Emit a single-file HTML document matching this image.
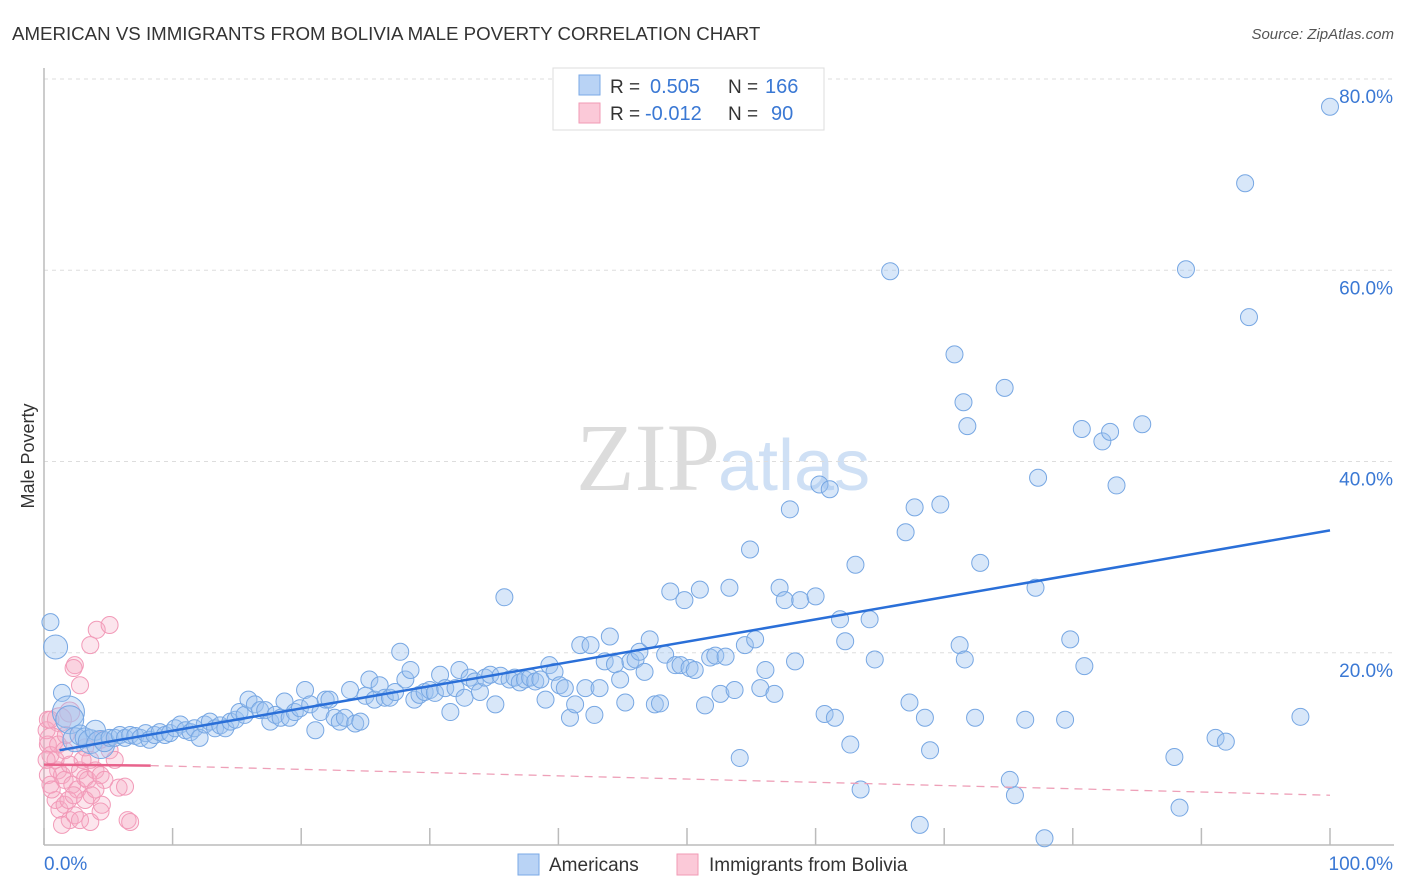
<!DOCTYPE html>
<html><head><meta charset="utf-8"><style>
body{margin:0;background:#fff;font-family:"Liberation Sans",sans-serif;}
#wrap{position:relative;width:1406px;height:892px;overflow:hidden;}
</style></head><body>
<div id="wrap">
<svg id="svg" width="1406" height="892" xmlns="http://www.w3.org/2000/svg">
<text x="12" y="40" font-size="18.7" fill="#333">AMERICAN VS IMMIGRANTS FROM BOLIVIA MALE POVERTY CORRELATION CHART</text>
<text x="1394" y="39" font-size="15" fill="#555" font-style="italic" text-anchor="end">Source: ZipAtlas.com</text>
<text x="720" y="490" font-size="96" fill="#dcdcdc" text-anchor="end" font-family="Liberation Serif">ZIP</text>
<text x="718" y="490" font-size="72" fill="#cfe0f5">atlas</text>
<text transform="translate(34,456) rotate(-90)" font-size="18" fill="#333" text-anchor="middle">Male Poverty</text>
<g id="grid"></g>
<g id="pts"></g>
<g id="lines"></g>
<g>
<rect x="553" y="68" width="271" height="62" fill="#fff" stroke="#ddd"/>
<rect x="579" y="75" width="21" height="20" fill="#b9d3f5" stroke="#7aa8e6"/>
<rect x="579" y="103" width="21" height="20" fill="#fbc9d8" stroke="#f19ab5"/>
<text x="610" y="93" font-size="19" fill="#333">R = </text><text x="650" y="93" font-size="20" fill="#3a78d4">0.505</text>
<text x="728" y="93" font-size="19" fill="#333">N = </text><text x="765" y="93" font-size="20" fill="#3a78d4">166</text>
<text x="610" y="120" font-size="19" fill="#333">R = </text><text x="645" y="120" font-size="20" fill="#3a78d4">-0.012</text>
<text x="728" y="120" font-size="19" fill="#333">N = </text><text x="771" y="120" font-size="20" fill="#3a78d4">90</text>
</g>
<g>
<rect x="518" y="854" width="21" height="21" fill="#b9d3f5" stroke="#7aa8e6"/>
<text x="549" y="871" font-size="19" fill="#333">Americans</text>
<rect x="677" y="854" width="21" height="21" fill="#fbc9d8" stroke="#f19ab5"/>
<text x="709" y="871" font-size="19" fill="#333">Immigrants from Bolivia</text>
</g>
</svg>
</div>
<script>
const yTicks=[20,40,60,80];
const yTickLabels=["20.0%","40.0%","60.0%","80.0%"];
const xTicks=[0,10,20,30,40,50,60,70,80,90,100];
const xEndLabels=["0.0%","100.0%"];
const blueTrend=[[1.2,9.8],[100,32.8]];
const pinkTrend=[[0,8.3],[8.3,8.2],[100,5.1]];
const blueX=[0.5,0.9,1.4,1.9,2.0,2.4,2.8,3.2,3.6,4.0,4.4,4.7,5.1,5.5,5.9,6.3,6.7,7.1,7.5,7.9,8.2,8.6,9.0,9.4,9.8,10.2,10.6,11.0,11.4,11.7,12.1,12.5,12.9,13.3,13.7,14.1,14.5,14.9,15.2,15.6,15.9,16.4,16.8,17.2,17.6,18.0,18.4,18.7,19.1,19.5,19.9,20.3,20.7,21.1,21.5,21.9,22.2,22.6,23.0,23.4,23.8,24.2,24.6,25.0,25.3,25.7,26.1,26.5,26.9,27.3,27.7,28.1,28.5,28.8,29.2,29.6,30.0,30.4,30.8,31.2,31.6,32.0,32.3,32.7,33.1,33.5,33.9,34.3,34.7,35.1,35.5,35.8,36.2,36.6,37.0,37.4,37.8,38.2,38.6,39.0,39.3,39.7,40.1,40.5,40.9,41.3,41.7,42.1,42.5,42.8,43.2,43.6,44.0,44.4,44.8,45.2,45.6,46.0,46.3,46.7,47.1,47.5,47.9,48.3,48.7,49.1,49.5,49.8,50.2,50.6,51.0,51.4,51.8,52.2,52.6,53.0,53.3,53.7,54.1,54.5,54.9,55.3,55.7,56.1,56.8,57.2,57.6,58.0,58.4,58.8,60.0,60.3,60.7,61.1,61.5,61.9,62.3,62.7,63.1,63.5,64.2,64.6,65.8,67.0,67.3,67.7,68.1,68.5,68.9,69.7,70.8,71.5,71.8,71.2,71.6,72.4,72.8,74.7,75.1,75.5,76.3,77.3,77.1,77.8,79.4,79.8,80.7,80.9,82.3,83.4,82.9,85.4,87.9,88.3,88.8,91.1,91.9,93.4,93.7,97.7,100];
const blueY=[23.2,20.6,15.8,13.8,13.0,10.9,11.4,11.1,10.7,11.9,10.4,10.7,11.1,11.1,11.4,11.1,11.4,11.3,11.1,11.6,10.9,11.4,11.7,11.4,11.6,12.1,12.5,11.9,11.7,12.1,11.1,12.5,12.8,12.1,12.4,12.1,12.8,13.0,13.8,13.5,15.1,14.6,14.0,14.0,12.8,13.5,13.2,14.9,13.2,13.8,14.2,16.1,14.6,11.9,13.8,15.1,15.1,13.2,12.8,13.2,16.1,12.6,12.8,15.5,17.2,15.1,16.6,15.3,15.3,15.9,20.1,17.2,18.2,15.1,15.6,15.9,16.1,15.8,17.7,16.3,13.8,16.3,18.2,15.3,17.4,17.0,15.9,17.4,17.7,14.6,17.6,25.8,17.2,17.4,16.9,17.2,17.4,17.0,17.2,15.1,18.7,18.0,16.6,16.3,13.2,14.6,20.8,16.3,20.8,13.5,16.3,19.1,21.7,18.8,17.2,14.8,19.1,19.3,20.1,18.0,21.4,14.6,14.7,19.8,26.4,18.7,18.7,25.5,18.4,18.2,26.6,14.5,19.5,19.7,15.7,19.6,26.8,16.1,9.0,20.8,30.8,21.4,16.3,18.2,15.7,26.8,25.5,35.0,19.1,25.5,25.9,37.6,13.6,37.1,13.2,23.5,21.2,10.4,29.2,5.7,23.5,19.3,59.9,32.6,14.8,35.2,2.0,13.2,9.8,35.5,51.2,46.2,43.7,20.8,19.3,13.2,29.4,47.7,6.7,5.1,13.0,38.3,26.8,0.6,13.0,21.4,43.4,18.6,42.1,37.5,43.1,43.9,9.1,3.8,60.1,11.1,10.7,69.1,55.1,13.3,77.1];
const blueBig=[0,12,0,16,14,12,10,10,12,10,14,10];
const pinkX=[4.1,5.1,3.6,2.4,2.3,2.8,2.0,1.2,0.6,0.3,0.5,0.9,1.1,1.4,1.6,2.0,2.2,2.6,2.8,3.2,3.4,3.6,0.9,1.2,1.6,2.0,2.4,3.2,2.8,1.4,3.6,4.4,4.5,5.8,6.3,6.5,6.7,0.3,0.5,0.6,0.2,0.2,0.3,1.9,2.3,3.0,4.0,4.4,4.7,1.1,1.6,1.7,3.7,4.0,5.1,5.5,4.4,3.2,0.5];
const pinkY=[22.4,22.9,20.8,18.7,18.4,16.6,13.8,13.0,10.9,10.4,9.3,8.8,7.7,7.2,6.7,8.3,6.2,5.7,7.7,6.9,6.7,8.8,4.6,3.6,4.1,2.5,3.0,4.6,2.5,2.0,2.3,3.4,4.1,5.9,6.0,2.5,2.3,7.2,6.2,5.7,8.8,11.9,13.0,4.6,5.1,8.8,7.7,7.2,6.7,10.4,9.8,11.4,5.1,5.7,9.8,8.8,10.9,10.1,13.0];
const pinkBig=[0,0,0,0,0,0,10,12,12];
const NS="http://www.w3.org/2000/svg";
const X0=44,X1=1330,Y0=844,Y80=79;
function sx(v){return X0+(X1-X0)*v/100;}
function sy(v){return Y0-(Y0-Y80)*v/80;}
function mk(tag,attrs,parent){const e=document.createElementNS(NS,tag);for(const k in attrs)e.setAttribute(k,attrs[k]);parent.appendChild(e);return e;}
const grid=document.getElementById('grid'),pts=document.getElementById('pts'),lines=document.getElementById('lines');
yTicks.forEach((t,i)=>{
 const l=mk('line',{x1:X0,x2:1394,y1:sy(t),y2:sy(t),stroke:'#ddd','stroke-dasharray':'4,4'},grid);
 
 
 const tx=mk('text',{x:1393,y:sy(t)+24,'font-size':19,fill:'#3a78d4','text-anchor':'end'},grid);
 tx.textContent=yTickLabels[i];
 
 
});
const ax=mk('line',{x1:X0,x2:X0,y1:68,y2:845,stroke:'#bbb','stroke-width':1.5},grid);


const bx=mk('line',{x1:X0,x2:1394,y1:845,y2:845,stroke:'#bbb','stroke-width':1.5},grid);


xTicks.forEach(t=>{
 const l=mk('line',{x1:sx(t),x2:sx(t),y1:828,y2:845,stroke:'#bbb','stroke-width':1.5},grid);
 
 
});
const xl0=mk('text',{x:44,y:870,'font-size':19,fill:'#3a78d4'},grid);xl0.textContent=xEndLabels[0];


const xl1=mk('text',{x:1393,y:870,'font-size':19,fill:'#3a78d4','text-anchor':'end'},grid);xl1.textContent=xEndLabels[1];


pinkX.forEach((x,i)=>{
 const c=mk('circle',{cx:sx(x),cy:sy(pinkY[i]),r:pinkBig[i]||8.5,fill:'rgba(246,168,194,0.3)',stroke:'#f29ab8','stroke-width':1},pts);
 
 
});
blueX.forEach((x,i)=>{
 const c=mk('circle',{cx:sx(x),cy:sy(blueY[i]),r:blueBig[i]||8.5,fill:'rgba(158,195,240,0.4)',stroke:'#77a7e3','stroke-width':1},pts);
 
 
});
const bl=mk('line',{x1:sx(blueTrend[0][0]),y1:sy(blueTrend[0][1]),x2:sx(blueTrend[1][0]),y2:sy(blueTrend[1][1]),stroke:'#2a6fd8','stroke-width':2.5},lines);


const pl=mk('line',{x1:sx(pinkTrend[0][0]),y1:sy(pinkTrend[0][1]),x2:sx(pinkTrend[1][0]),y2:sy(pinkTrend[1][1]),stroke:'#e8638c','stroke-width':2.5},lines);


const pd=mk('line',{x1:sx(pinkTrend[1][0]),y1:sy(pinkTrend[1][1]),x2:sx(pinkTrend[2][0]),y2:sy(pinkTrend[2][1]),stroke:'#eea0b8','stroke-width':1.3,'stroke-dasharray':'8,6'},lines);


</script>
</body></html>
